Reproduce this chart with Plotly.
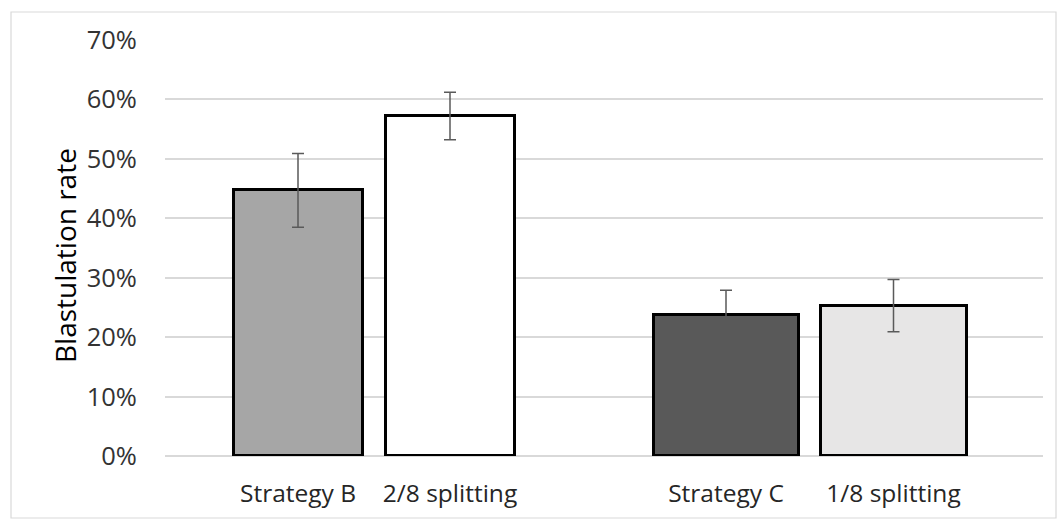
import plotly.graph_objects as go

# Blastulation rate per strategy (fraction) with error (fraction)
categories = ["Strategy B", "2/8 splitting", "Strategy C", "1/8 splitting"]
rates = [0.447, 0.572, 0.237, 0.253]
errors = [0.062, 0.040, 0.042, 0.044]
y_ticks = [0.0, 0.1, 0.2, 0.3, 0.4, 0.5, 0.6, 0.7]
y_title = "Blastulation rate"

# layout of the bars along the x axis (two clusters with a gap between them)
x_centers = [1.33, 2.85, 5.61, 7.285]
bar_widths = [1.29, 1.29, 1.45, 1.46]
fill_colors = ["#a6a6a6", "#ffffff", "#595959", "#e7e6e6"]

W, H = 1061, 520
L, R, T, B = 165, 18, 40, 64
plot_w, plot_h = W - L - R, H - T - B

fig = go.Figure()
fig.add_trace(go.Bar(
    x=x_centers,
    y=rates,
    width=bar_widths,
    marker=dict(color=fill_colors, line=dict(color="#000000", width=3)),
    error_y=dict(type="data", array=errors, visible=True,
                 color="#5a5a5a", thickness=1.5, width=6),
    showlegend=False,
    hoverinfo="skip",
))


def px_x(px):
    return (px - L) / plot_w


def px_y(py):
    return (H - B - py) / plot_h


# light chart-area frame
fig.add_shape(type="rect", xref="paper", yref="paper",
              x0=px_x(11), x1=px_x(1056), y0=px_y(518), y1=px_y(12),
              line=dict(color="#d9d9d9", width=1.2), fillcolor="rgba(0,0,0,0)",
              layer="below")

# vertical axis title
fig.add_annotation(text=y_title, textangle=-90, showarrow=False,
                   xref="paper", yref="paper", x=px_x(65), y=px_y(256),
                   xanchor="center", yanchor="middle",
                   font=dict(size=28, color="#000000", family="Open Sans"))

fig.update_layout(
    width=W, height=H,
    margin=dict(l=L, r=R, t=T, b=B, pad=0),
    paper_bgcolor="#ffffff",
    plot_bgcolor="#ffffff",
    font=dict(family="Open Sans", color="#404040"),
    bargap=0,
    xaxis=dict(
        range=[0, plot_w / 100],
        tickvals=x_centers,
        ticktext=categories,
        tickfont=dict(size=24.5, color="#262626"),
        ticks="outside", ticklen=16, tickcolor="rgba(0,0,0,0)",
        showgrid=False, zeroline=False, showline=False,
        fixedrange=True,
    ),
    yaxis=dict(
        range=[0, 0.7],
        tickvals=y_ticks,
        tickformat=".0%",
        tickfont=dict(size=25.5, color="#333333"),
        ticks="outside", ticklen=22, tickcolor="rgba(0,0,0,0)",
        showgrid=True, gridcolor="#d9d9d9", gridwidth=1.5,
        zeroline=True, zerolinecolor="#d9d9d9", zerolinewidth=1.5,
        showline=False,
        fixedrange=True,
    ),
)

fig.write_html("out.html")
